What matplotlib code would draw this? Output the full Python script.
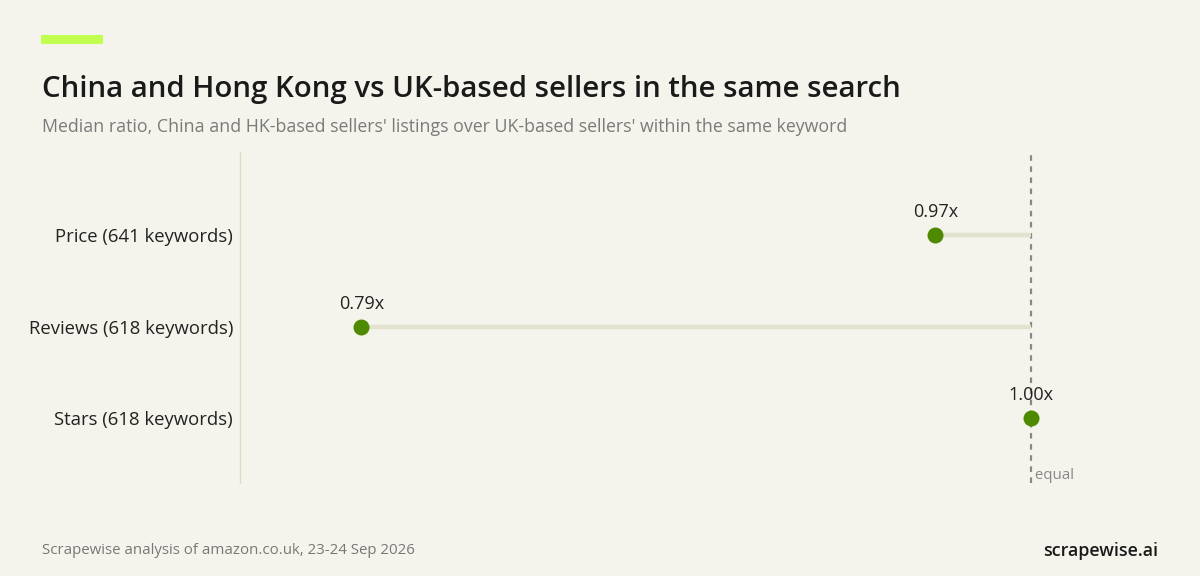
import matplotlib.pyplot as plt
from matplotlib.patches import Rectangle

# data
categories = ['Price (641 keywords)', 'Reviews (618 keywords)', 'Stars (618 keywords)']
ratios = [0.97, 0.79, 1.00]
ratio_labels = ['0.97x', '0.79x', '1.00x']
baseline = 1.0

bg = '#f5f4ec'
green = '#4d8a00'
stem = '#e2e2cf'

plt.rcParams['font.family'] = ['Open Sans', 'DejaVu Sans']

fig = plt.figure(figsize=(12, 5.76), dpi=100, facecolor=bg)

# axes placed to match pixel layout (left 240px, top 152px, bottom 483px)
ax = fig.add_axes([0.2, 1 - 483 / 576, 855 / 1200, 331 / 576])
ax.set_facecolor(bg)

ys = list(range(len(categories)))
ax.axvline(baseline, color='#888888', lw=1.6, ls=(0, (2.5, 2.5)), zorder=1)
for y, r, lab in zip(ys, ratios, ratio_labels):
    ax.plot([r, baseline], [y, y], color=stem, lw=3.2, solid_capstyle='butt', zorder=2)
    ax.plot(r, y, 'o', ms=11.5, color=green, mec='none', zorder=3)
    ax.annotate(lab, (r, y), xytext=(0, 10), textcoords='offset points',
                ha='center', va='bottom', fontsize=13, color='#222222', zorder=4)

ax.set_xlim(0.752, 1.020)
ax.set_ylim(2.71, -0.907)
ax.set_yticks(ys)
ax.set_yticklabels(categories, fontsize=13.3, color='#222222', va='top')
ax.tick_params(axis='y', length=0, pad=5)
# nudge labels down a little (reference sits ~2px below dot centres)
for t in ax.get_yticklabels():
    t.set_verticalalignment('center_baseline')
ax.set_xticks([])
for s in ['top', 'right', 'bottom']:
    ax.spines[s].set_visible(False)
ax.spines['left'].set_color('#deddca')
ax.spines['left'].set_linewidth(1)

ax.text(baseline, 2.71, ' equal', ha='left', va='bottom', fontsize=10.8,
        color='#888888', transform=ax.transData)

# header accent bar
fig.patches.append(Rectangle((41 / 1200, 1 - 44 / 576), 62 / 1200, 9 / 576,
                             transform=fig.transFigure, color='#c0ff4d', lw=0))

fig.text(42 / 1200, 1 - 90 / 576, 'China and Hong Kong vs UK-based sellers in the same search',
         fontsize=21.2, fontweight='semibold', color='#1a1a1a', va='center', ha='left')
fig.text(42 / 1200, 1 - 127 / 576,
         "Median ratio, China and HK-based sellers' listings over UK-based sellers' within the same keyword",
         fontsize=12.8, color='#7a7a7a', va='center', ha='left')
fig.text(42 / 1200, 1 - 551 / 576, 'Scrapewise analysis of amazon.co.uk, 23-24 Sep 2026',
         fontsize=10.8, color='#777777', va='center', ha='left')
fig.text(1158 / 1200, 1 - 551 / 576, 'scrapewise.ai',
         fontsize=12.9, fontweight='semibold', color='#1a1a1a', va='center', ha='right')

fig.savefig('out.png', dpi=100, facecolor=bg)
